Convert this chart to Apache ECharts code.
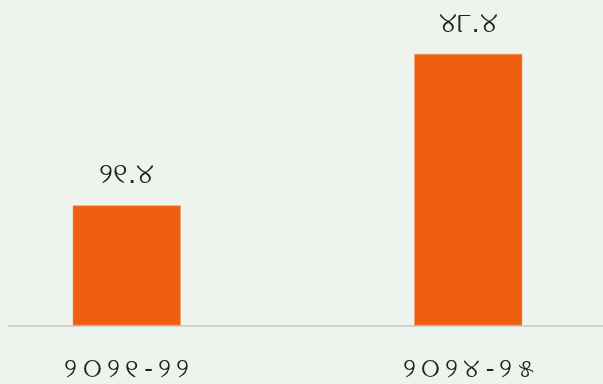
<!DOCTYPE html>
<html>
<head>
<meta charset="utf-8">
<script src="https://cdn.jsdelivr.net/npm/echarts@6/dist/echarts.min.js"></script>
<style>
  html, body { margin: 0; padding: 0; background: #eef3ed; }
  #main { width: 603px; height: 384px; }
</style>
</head>
<body>
<div id="main"></div>
<script>
// ଅର୍ଥବର୍ଷ ଓ ମୂଲ୍ୟ
const years = ['୨୦୨୧-୨୨', '୨୦୨୪-୨୫'];
const values = [21.4, 48.4];
const valueLabels = ['୨୧.୪', '୪୮.୪'];

const chart = echarts.init(document.getElementById('main'));

// the picture spaces the year digits out a little
function spaced (s) {
  return s.split('').join('\u2009');
}

const option = {
  backgroundColor: '#eef3ed',
  animation: false,
  grid: [
    // bars: wider than the window so the two bars sit where they are in the picture
    { left: -44, right: -36, top: 45, bottom: 58.5, outerBoundsMode: 'none', containLabel: false },
    // only used for the base line
    { left: 9, right: 0, top: 45, bottom: 58.5, outerBoundsMode: 'none' }
  ],
  xAxis: [{
    type: 'category',
    gridIndex: 0,
    data: years,
    axisLine: { show: false },
    axisTick: { show: false },
    axisLabel: {
      color: '#222',
      fontSize: 26,
      margin: 31,
      formatter: spaced
    }
  }, {
    type: 'category',
    gridIndex: 1,
    data: [],
    axisLine: { lineStyle: { color: '#cfd3cd', width: 2 } },
    axisTick: { show: false },
    axisLabel: { show: false }
  }],
  yAxis: [{
    type: 'value',
    gridIndex: 0,
    min: 0,
    max: 50,
    show: false
  }, {
    type: 'value',
    gridIndex: 1,
    show: false
  }],
  series: [{
    type: 'bar',
    xAxisIndex: 0,
    yAxisIndex: 0,
    barWidth: 108,
    itemStyle: { color: '#ee6010', borderColor: '#f39a6a', borderWidth: 0.5 },
    label: {
      show: true,
      position: 'top',
      distance: 16,
      color: '#222',
      fontSize: 28,
      formatter: function (p) { return valueLabels[p.dataIndex]; }
    },
    data: values
  }]
};
chart.setOption(option);
</script>
</body>
</html>
